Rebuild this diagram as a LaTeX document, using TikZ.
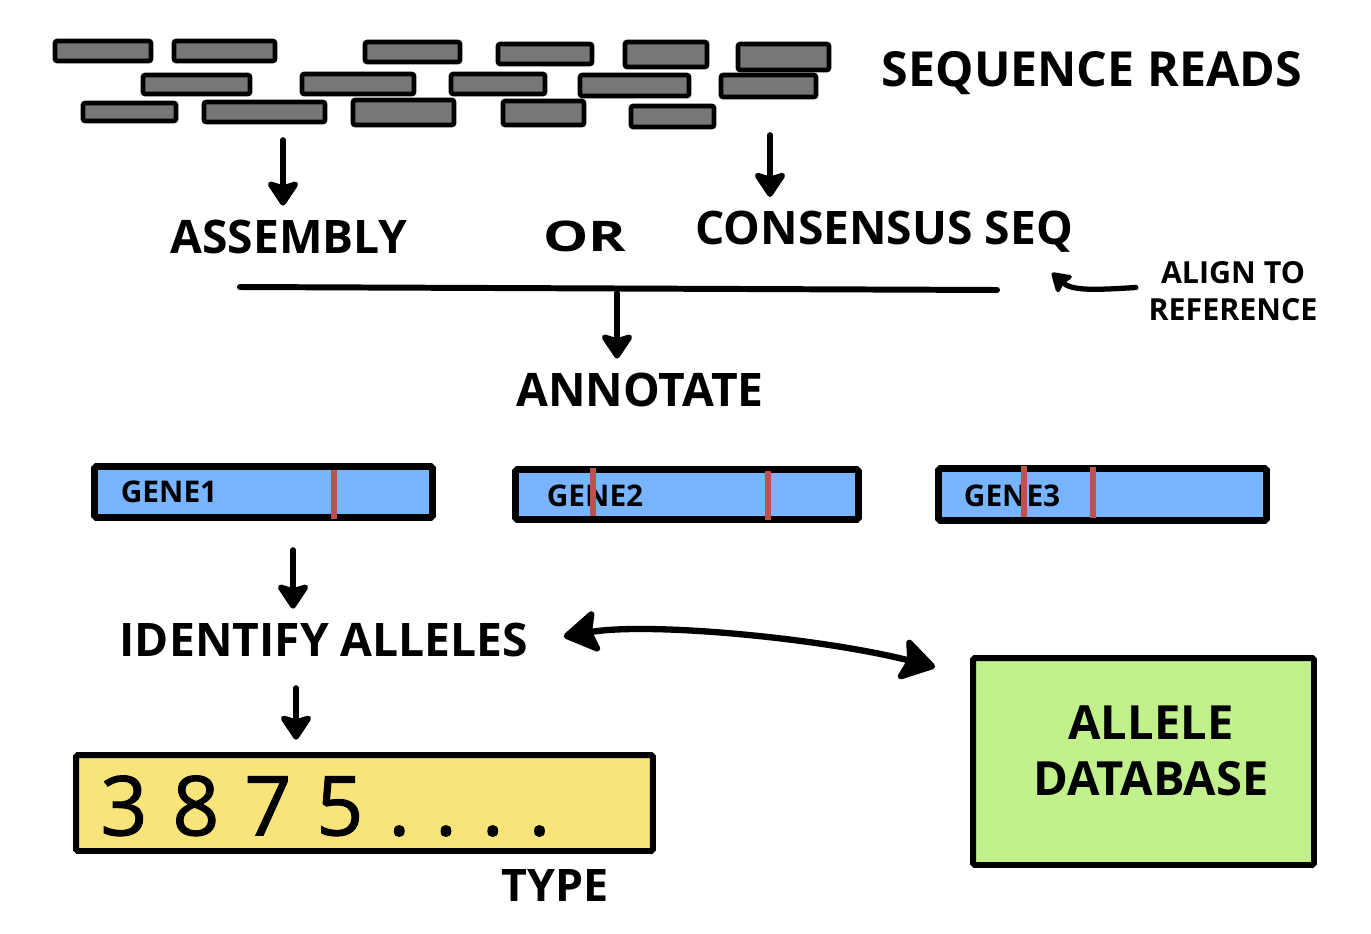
\documentclass[tikz,border=0pt]{standalone}
\usepackage{fontspec}
\setmainfont{Open Sans}
\usetikzlibrary{arrows.meta, positioning}
\definecolor{readgray}{HTML}{777777}
\definecolor{geneblue}{HTML}{78B4FF}
\definecolor{snpred}{HTML}{C0504D}
\definecolor{typeyellow}{HTML}{F8E47A}
\definecolor{dbgreen}{HTML}{C2F08C}

\begin{document}
\begin{tikzpicture}[x=0.02cm, y=-0.02cm, every node/.style={font=\bfseries},
  >={Stealth[length=16pt, width=21pt, inset=3pt, round]},
  read/.style={draw, line width=2.6pt, fill=readgray, rounded corners=1.2pt},
  arr/.style={->, line width=3.2pt, line cap=round},
  smallarr/.style={->, line width=3pt, line cap=round, >={Stealth[length=12pt, width=15pt, inset=2pt, round]}},
  dblarr/.style={<->, line width=3.6pt, >={Stealth[length=22pt, width=27pt, inset=4pt, round]}},
  big/.style={font=\bfseries\fontsize{26.3}{30}\selectfont, inner sep=8pt},
  small/.style={font=\bfseries\fontsize{17}{21}\selectfont, inner sep=2pt},
  gene/.style={draw, line width=3.8pt, fill=geneblue, rounded corners=1pt},
  snp/.style={snpred, line width=3.4pt},
  box/.style={draw, line width=3.4pt, rounded corners=1pt}]
  \useasboundingbox (0,0) rectangle (1371,933);

  % Reads: three staggered rows
  \foreach \xa/\ya/\xb/\yb in {55/41/151/61, 174/41/275/61, 365/42/460/62, 498/44/592/64, 625/42/707/67, 738/44/829/70,
      143/75/250/94, 302/74/414/94, 451/74/545/94, 580/75/689/96, 721/75/816/97,
      83/103/176/121, 204/102/325/122, 353/100/454/125, 503/101/584/125, 631/106/714/127}
    \draw[read] (\xa,\ya) rectangle (\xb,\yb);
  \node[big, font=\bfseries\fontsize{27.5}{30}\selectfont] (seq) at (1092,73) {SEQUENCE READS};

  % Assembly or consensus
  \node[big] (asm) at (289,237) {ASSEMBLY};
  \node[font=\bfseries\fontsize{24}{26}\selectfont, xscale=1.35] (or) at (585,236) {OR};
  \node[big] (cs) at (884,232) {CONSENSUS SEQ};
  \coordinate (s1) at (283,140);
  \coordinate (s2) at (770,135);
  \draw[arr] (s1) -- (s1 |- asm.north);
  \draw[arr] (s2) -- (s2 |- cs.north);

  % Merge line and reference note
  \coordinate (la) at (240,287);
  \coordinate (lb) at (997,290);
  \draw[line width=3.4pt, line cap=round] (la) -- (lb);
  \node[font=\bfseries\fontsize{17.3}{21}\selectfont, align=center, inner sep=2pt] (al) at (1233,291) {ALIGN TO\\REFERENCE};
  \coordinate (aligntip) at (1052,273);
  \draw[smallarr] ([xshift=-5pt, yshift=2pt]al.west) .. controls (1095,290) and (1072,291) .. (aligntip);

  % Annotate
  \coordinate (s3) at (617,293);
  \node[big] (ann) at (640,390) {ANNOTATE};
  \draw[arr] (s3) -- (s3 |- ann.north);

  % Genes with variant marks
  \node[gene, minimum width=6.76cm, minimum height=1.02cm] (g1) at (263.5,492) {};
  \node[gene, minimum width=6.86cm, minimum height=1.0cm] (g2) at (687,494.5) {};
  \node[gene, minimum width=6.56cm, minimum height=1.04cm] (g3) at (1102.5,494.5) {};
  \node[small, anchor=west] (g1l) at (117,492) {GENE1};
  \node[small, anchor=west] (g2l) at (543,496) {GENE2};
  \node[small, anchor=west] (g3l) at (960,496) {GENE3};
  \draw[snp] (334,470) -- (334,519);
  \draw[snp] (593,468) -- (593,516);
  \draw[snp] (768,471) -- (768,520);
  \draw[snp] (1024,466) -- (1024,517);
  \draw[snp] (1093,467) -- (1093,518);

  % Alleles and database
  \coordinate (s4) at (293,550);
  \node[big] (id) at (324,640) {IDENTIFY ALLELES};
  \draw[arr] (s4) -- (s4 |- id.north);
  \node[box, fill=dbgreen, minimum width=6.82cm, minimum height=4.14cm] (db) at (1143.5,761.5) {};
  \node[big, align=center, font=\bfseries\fontsize{26.8}{32}\selectfont] (dbl) at (1151,751) {ALLELE\\DATABASE};
  \coordinate (dbin) at (935,667);
  \draw[dblarr] ([xshift=12pt, yshift=2pt]id.east) .. controls (650,622) and (820,638) .. (dbin);

  % Type
  \coordinate (s5) at (296,688);
  \node[box, fill=typeyellow, minimum width=11.54cm, minimum height=1.92cm] (tb) at (364.5,803) {};
  \draw[arr, shorten >=7pt] (s5) -- (s5 |- tb.north);
  \node[anchor=west, inner sep=0pt, font=\fontsize{47}{50}\selectfont\addfontfeature{LetterSpace=30, FakeBold=1.2}] (num) at (100,806) {3875....};
  \node[big, font=\bfseries\fontsize{25.5}{28}\selectfont] (ty) at (555,885) {TYPE};
\end{tikzpicture}
\end{document}
